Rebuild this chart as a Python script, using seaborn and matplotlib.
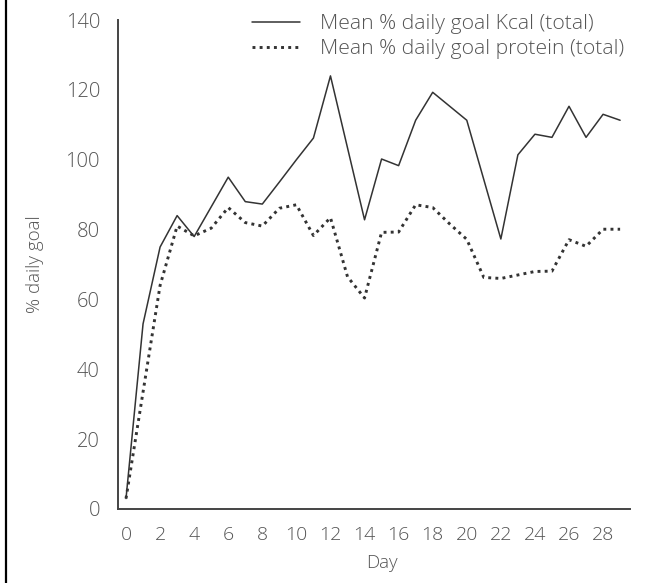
import matplotlib
matplotlib.use("Agg")
import matplotlib.pyplot as plt
from matplotlib.lines import Line2D
import numpy as np
import pandas as pd
import seaborn as sns

# Mean percentage of daily goal reached, per day of stay
days = list(range(0, 30))
kcal = [3, 53, 75, 84, 78, 86.5, 95, 88, 87.3, 93.6,
        100, 106.2, 124, 103.4, 82.8, 100.2, 98.3, 111.3, 119.3, 115.3,
        111.3, 94.3, 77.3, 101.4, 107.3, 106.4, 115.3, 106.4, 113, 111.3]
protein = [3, 33.5, 64, 81, 78.2, 80.4, 86.3, 82, 81, 86.1,
           87.1, 78.3, 83.4, 66.5, 60.4, 79.2, 79.3, 87.1, 86.3, 81.6,
           77.2, 66.3, 66, 67, 68, 68.1, 77.1, 75.2, 80.1, 80.1]
labels = ["Mean % daily goal Kcal (total)", "Mean % daily goal protein (total)"]

df = pd.DataFrame({"Day": days, "kcal": kcal, "protein": protein})

sns.set_style("white")
plt.rcParams["font.family"] = ["Open Sans", "DejaVu Sans"]
text_color = "#555555"
line_color = "#333333"
axis_color = "#444444"

fig = plt.figure(figsize=(6.45, 5.83), dpi=100)
ax = fig.add_axes([118 / 645, 74 / 583, (630 - 118) / 645, (509 - 20) / 583])

sns.lineplot(data=df, x="Day", y="kcal", ax=ax, color=line_color,
             linewidth=1.1, label=labels[0])
sns.lineplot(data=df, x="Day", y="protein", ax=ax, color=line_color,
             linewidth=2.1, dashes=False, label=labels[1])
ax.lines[1].set_dashes([1.0, 1.45])

ax.set_xlim(-0.47, 29.58)
ax.set_ylim(0, 140)
ax.set_xticks(range(0, 30))
ax.set_xticklabels([str(d) if d % 2 == 0 else "" for d in days])
ax.set_yticks(range(0, 141, 20))

for side in ("top", "right"):
    ax.spines[side].set_visible(False)
for side in ("left", "bottom"):
    ax.spines[side].set_color(axis_color)
    ax.spines[side].set_linewidth(1.4)

ax.tick_params(axis="x", direction="in", length=5, width=1.0, color=axis_color,
               labelsize=14, labelcolor=text_color, pad=12)
ax.tick_params(axis="y", direction="out", length=7, width=1.0, color=axis_color,
               labelsize=14.5, labelcolor=text_color, pad=6)
for lbl in ax.get_xticklabels() + ax.get_yticklabels():
    lbl.set_fontweight("light")

ax.set_xlabel("Day", fontsize=13.5, color=text_color, fontweight="light")
ax.xaxis.set_label_coords((382 - 118) / 512, -(563 - 509) / 489)
ax.xaxis.label.set_va("center")
ax.set_ylabel("% daily goal", fontsize=13.5, color=text_color, fontweight="light")
ax.yaxis.set_label_coords(-(118 - 35) / 512, 0.5)
ax.yaxis.label.set_va("center")

leg = ax.legend(loc="upper left", bbox_to_anchor=(252 / 645, 1 - 14 / 583),
                bbox_transform=fig.transFigure, frameon=False,
                fontsize=15.2, handlelength=2.25, handletextpad=0.95,
                labelspacing=0.24, borderpad=0, borderaxespad=0)
for t in leg.get_texts():
    t.set_color(text_color)
    t.set_fontweight("light")

# thin frame line along the left edge of the figure
fig.add_artist(Line2D([6 / 645, 6 / 645], [0, 1], transform=fig.transFigure,
                      color="black", linewidth=1.6))

fig.savefig("out.png", dpi=100)
